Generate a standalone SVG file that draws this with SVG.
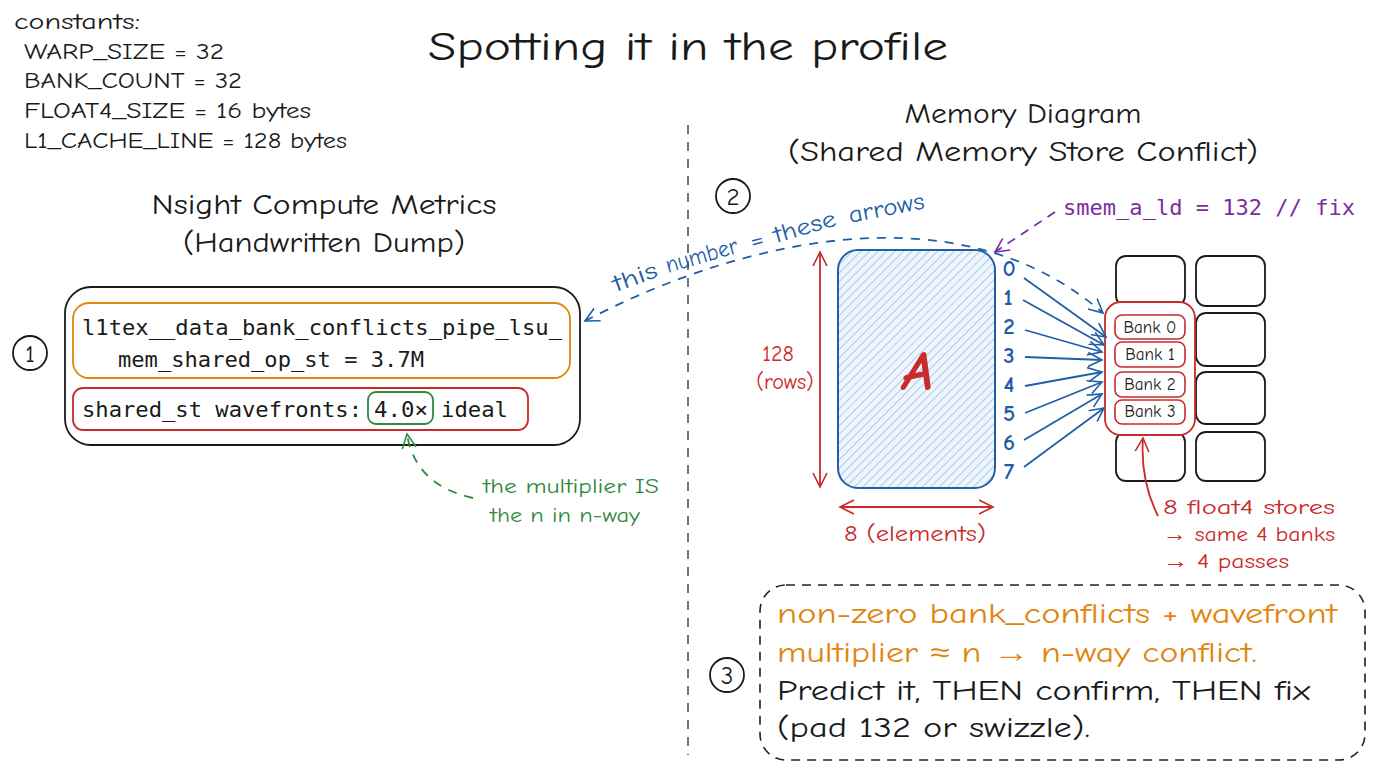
<svg xmlns="http://www.w3.org/2000/svg" width="1376" height="768" viewBox="0 0 1376 768">
<defs>
<style>
.hand{font-family:"Comic Neue","Liberation Sans","Open Sans",sans-serif;}
.mono{font-family:"DejaVu Sans Mono","Liberation Mono",monospace;font-size:21px;}
.blk{fill:#1a1a1a;}
.blue{fill:#1f5fa6;}
.red{fill:#c92a2a;}
.orange{fill:#e0860f;}
.green{fill:#2f8a3c;}
.purple{fill:#7a2ea0;}
.box{fill:none;stroke-width:1.8;}
.cell{fill:#fff;stroke:#1a1a1a;stroke-width:1.8;}
.circ{fill:#fff;stroke:#1a1a1a;stroke-width:1.8;}
.fan{stroke:#1f5fa6;stroke-width:1.8;fill:none;marker-end:url(#mBlue);}
</style>
<marker id="mBlue" markerUnits="userSpaceOnUse" markerWidth="20" markerHeight="20" refX="14" refY="7" viewBox="0 0 20 14" orient="auto-start-reverse"><path d="M0,0 L14,7 L0,14" fill="none" stroke="#1f5fa6" stroke-width="1.6"/></marker>
<marker id="mRed" markerUnits="userSpaceOnUse" markerWidth="20" markerHeight="20" refX="14" refY="7" viewBox="0 0 20 14" orient="auto-start-reverse"><path d="M0,0 L14,7 L0,14" fill="none" stroke="#c92a2a" stroke-width="1.6"/></marker>
<marker id="mGreen" markerUnits="userSpaceOnUse" markerWidth="20" markerHeight="20" refX="14" refY="7" viewBox="0 0 20 14" orient="auto"><path d="M0,0 L14,7 L0,14" fill="none" stroke="#2f8a3c" stroke-width="1.6"/></marker>
<marker id="mPurple" markerUnits="userSpaceOnUse" markerWidth="20" markerHeight="20" refX="14" refY="7" viewBox="0 0 20 14" orient="auto"><path d="M0,0 L14,7 L0,14" fill="none" stroke="#7a2ea0" stroke-width="1.6"/></marker>
<pattern id="hatch" patternUnits="userSpaceOnUse" width="6" height="6" patternTransform="rotate(45)"><rect width="6" height="6" fill="#eef5fc"/><line x1="0" y1="0" x2="0" y2="6" stroke="#7fb0dc" stroke-width="1.2"/></pattern>
</defs>
<rect width="1376" height="768" fill="#ffffff"/>

<g id="title">
<text class="hand blk" x="688" y="60" font-size="40" text-anchor="middle" textLength="520" lengthAdjust="spacingAndGlyphs">Spotting it in the profile</text>
</g>

<g id="constants" class="hand blk" font-size="22">
<text x="14" y="29" textLength="126" lengthAdjust="spacingAndGlyphs">constants:</text>
<text x="24" y="59" textLength="200" lengthAdjust="spacingAndGlyphs">WARP_SIZE = 32</text>
<text x="24" y="88" textLength="218" lengthAdjust="spacingAndGlyphs">BANK_COUNT = 32</text>
<text x="24" y="118" textLength="287" lengthAdjust="spacingAndGlyphs">FLOAT4_SIZE = 16 bytes</text>
<text x="24" y="148" textLength="323" lengthAdjust="spacingAndGlyphs">L1_CACHE_LINE = 128 bytes</text>
</g>

<line id="divider" x1="688" y1="125" x2="688" y2="755" stroke="#444" stroke-width="1.5" stroke-dasharray="9,8"/>

<g id="left-heading" class="hand blk" font-size="28" text-anchor="middle">
<text x="324" y="214" textLength="345" lengthAdjust="spacingAndGlyphs">Nsight Compute Metrics</text>
<text x="324" y="252" textLength="282" lengthAdjust="spacingAndGlyphs">(Handwritten Dump)</text>
</g>

<g id="marker1">
<circle class="circ" cx="30" cy="353" r="17"/>
<text class="hand blk" x="30" y="362" font-size="25" text-anchor="middle">1</text>
</g>

<g id="metrics-box">
<rect class="box" x="65" y="287" width="515" height="158" rx="26" stroke="#1a1a1a" stroke-width="2.2"/>
</g>
<g id="bank-conflicts-metric">
<rect class="box" x="73" y="303" width="497" height="75" rx="16" stroke="#e0860f"/>
<text class="mono blk" x="82" y="335" textLength="480" lengthAdjust="spacingAndGlyphs">l1tex__data_bank_conflicts_pipe_lsu_</text>
<text class="mono blk" x="118" y="367" textLength="306" lengthAdjust="spacingAndGlyphs">mem_shared_op_st = 3.7M</text>
</g>
<g id="wavefronts-metric">
<rect class="box" x="73" y="388" width="455" height="42" rx="10" stroke="#c92a2a"/>
<text class="mono blk" x="82" y="417" textLength="280" lengthAdjust="spacingAndGlyphs">shared_st wavefronts:</text>
<rect class="box" x="368" y="392" width="65" height="32" rx="8" stroke="#2f8a3c"/>
<text class="mono blk" x="374" y="417" textLength="54" lengthAdjust="spacingAndGlyphs">4.0×</text>
<text class="mono blk" x="441" y="417" textLength="67" lengthAdjust="spacingAndGlyphs">ideal</text>
</g>

<g id="multiplier-note" class="hand green" font-size="21">
<text x="483" y="493" textLength="176" lengthAdjust="spacingAndGlyphs">the multiplier IS</text>
<text x="490" y="522" textLength="150" lengthAdjust="spacingAndGlyphs">the n in n-way</text>
</g>

<g id="right-heading" class="hand blk" font-size="28" text-anchor="middle">
<text x="1023" y="123" textLength="237" lengthAdjust="spacingAndGlyphs">Memory Diagram</text>
<text x="1023" y="161" textLength="470" lengthAdjust="spacingAndGlyphs">(Shared Memory Store Conflict)</text>
</g>

<g id="marker2">
<circle class="circ" cx="733" cy="196" r="17"/>
<text class="hand blk" x="733" y="205" font-size="25" text-anchor="middle">2</text>
</g>

<g id="arrow-label" class="hand blue" font-size="24">
<text transform="translate(616,292) rotate(-20)" textLength="46" lengthAdjust="spacingAndGlyphs">this</text>
<text transform="translate(668,273) rotate(-16)" textLength="74" lengthAdjust="spacingAndGlyphs">number</text>
<text transform="translate(752,249) rotate(-15)" textLength="14" lengthAdjust="spacingAndGlyphs">=</text>
<text transform="translate(776,243) rotate(-16)" textLength="64" lengthAdjust="spacingAndGlyphs">these</text>
<text transform="translate(850,223) rotate(-11)" textLength="77" lengthAdjust="spacingAndGlyphs">arrows</text>
</g>

<g id="fix-label">
<text class="mono purple" x="1063" y="215" textLength="292" lengthAdjust="spacingAndGlyphs">smem_a_ld = 132 // fix</text>
</g>

<g id="matrix-A">
<rect x="838" y="250" width="157" height="238" rx="20" fill="url(#hatch)" stroke="#1f5fa6" stroke-width="2"/>
<text class="hand red" x="918" y="390" font-size="56" font-style="italic" font-weight="bold" text-anchor="middle">A</text>
</g>

<g id="rows-dim">
<text class="hand red" x="778" y="361" font-size="22" text-anchor="middle">128</text>
<text class="hand red" x="785" y="389" font-size="22" text-anchor="middle">(rows)</text>
</g>
<g id="cols-dim">
<text class="hand red" x="915" y="541" font-size="22" text-anchor="middle" textLength="142" lengthAdjust="spacingAndGlyphs">8 (elements)</text>
</g>

<g id="thread-indices" class="hand blue" font-size="23" font-weight="bold" text-anchor="middle">
<text x="1009" y="276">0</text>
<text x="1008" y="305">1</text>
<text x="1009" y="334">2</text>
<text x="1009" y="363">3</text>
<text x="1009" y="392">4</text>
<text x="1009" y="421">5</text>
<text x="1009" y="450">6</text>
<text x="1009" y="479">7</text>
</g>

<g id="bank-grid">
<rect class="cell" x="1116" y="256" width="69" height="50" rx="10"/>
<rect class="cell" x="1196" y="256" width="69" height="50" rx="10"/>
<rect class="cell" x="1196" y="313" width="69" height="53" rx="10"/>
<rect class="cell" x="1196" y="372" width="69" height="52" rx="10"/>
<rect class="cell" x="1116" y="432" width="69" height="49" rx="10"/>
<rect class="cell" x="1196" y="432" width="69" height="49" rx="10"/>
</g>

<g id="conflict-banks">
<rect x="1105" y="302" width="90" height="133" rx="16" fill="#fff" stroke="#c92a2a" stroke-width="1.8"/>
<rect x="1115" y="315" width="70" height="24" rx="7" fill="#fff" stroke="#c92a2a" stroke-width="1.6"/>
<rect x="1115" y="342" width="70" height="25" rx="7" fill="#fff" stroke="#c92a2a" stroke-width="1.6"/>
<rect x="1115" y="372" width="70" height="25" rx="7" fill="#fff" stroke="#c92a2a" stroke-width="1.6"/>
<rect x="1115" y="400" width="70" height="24" rx="7" fill="#fff" stroke="#c92a2a" stroke-width="1.6"/>
<g class="hand blk" font-size="17" text-anchor="middle">
<text x="1150" y="333">Bank 0</text>
<text x="1150" y="360">Bank 1</text>
<text x="1150" y="390">Bank 2</text>
<text x="1150" y="417">Bank 3</text>
</g>
</g>

<g id="stores-note" class="hand red" font-size="21">
<text x="1163" y="514" textLength="172" lengthAdjust="spacingAndGlyphs">8 float4 stores</text>
<text x="1163" y="541" textLength="172" lengthAdjust="spacingAndGlyphs">→ same 4 banks</text>
<text x="1163" y="568" textLength="126" lengthAdjust="spacingAndGlyphs">→ 4 passes</text>
</g>

<g id="summary">
<rect x="760" y="585" width="605" height="175" rx="26" fill="none" stroke="#222" stroke-width="1.6" stroke-dasharray="9,7"/>
<g class="hand" font-size="28">
<text class="orange" x="777" y="623" textLength="560" lengthAdjust="spacingAndGlyphs">non-zero bank_conflicts + wavefront</text>
<text class="orange" x="777" y="662" textLength="480" lengthAdjust="spacingAndGlyphs">multiplier ≈ n → n-way conflict.</text>
<text class="blk" x="777" y="700" textLength="533" lengthAdjust="spacingAndGlyphs">Predict it, THEN confirm, THEN fix</text>
<text class="blk" x="777" y="737" textLength="313" lengthAdjust="spacingAndGlyphs">(pad 132 or swizzle).</text>
</g>
</g>

<g id="marker3">
<circle class="circ" cx="727" cy="675" r="17"/>
<text class="hand blk" x="727" y="684" font-size="25" text-anchor="middle">3</text>
</g>

<g id="connectors">
<path d="M585,321 C720,250 950,180 1103,313" fill="none" stroke="#1f5fa6" stroke-width="1.8" stroke-dasharray="9,8" marker-start="url(#mBlue)" marker-end="url(#mBlue)"/>
<path d="M473,498 Q415,485 407,434" fill="none" stroke="#2f8a3c" stroke-width="1.8" stroke-dasharray="9,8" marker-end="url(#mGreen)"/>
<path d="M1055,212 L995,252" fill="none" stroke="#7a2ea0" stroke-width="1.8" stroke-dasharray="9,7" marker-end="url(#mPurple)"/>
<line x1="820" y1="252" x2="820" y2="487" stroke="#c92a2a" stroke-width="1.8" marker-start="url(#mRed)" marker-end="url(#mRed)"/>
<line x1="840" y1="507" x2="993" y2="507" stroke="#c92a2a" stroke-width="1.8" marker-start="url(#mRed)" marker-end="url(#mRed)"/>
<path d="M1158,516 Q1140,480 1143,438" fill="none" stroke="#c92a2a" stroke-width="1.8" marker-end="url(#mRed)"/>
<path class="fan" d="M1024,278 L1106,337"/>
<path class="fan" d="M1023,300 L1104,345"/>
<path class="fan" d="M1025,330 L1102,352"/>
<path class="fan" d="M1025,357 L1102,360"/>
<path class="fan" d="M1025,386 L1102,372"/>
<path class="fan" d="M1025,413 L1102,382"/>
<path class="fan" d="M1024,440 L1102,394"/>
<path class="fan" d="M1024,467 L1104,408"/>
</g>
</svg>
